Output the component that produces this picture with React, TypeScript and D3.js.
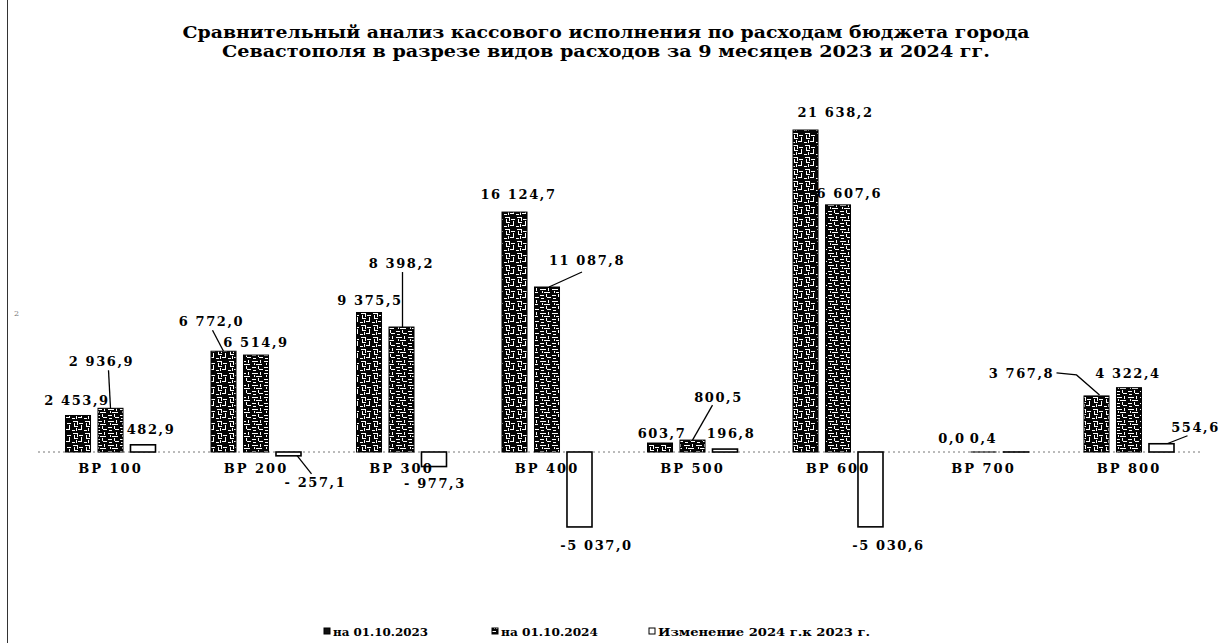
import React, { useRef, useEffect } from "react";
import * as d3 from "d3";

// chart data
const categories = ["ВР 100", "ВР 200", "ВР 300", "ВР 400", "ВР 500", "ВР 600", "ВР 700", "ВР 800"];
const values2023 = [2453.9, 6772.0, 9375.5, 16124.7, 603.7, 21638.2, 0.0, 3767.8];
const values2024 = [2936.9, 6514.9, 8398.2, 11087.8, 800.5, 16607.6, 0.4, 4322.4];
const changes = [482.9, -257.1, -977.3, -5037.0, 196.8, -5030.6, 0.4, 554.6];
const seriesNames = ["на 01.10.2023", "на 01.10.2024", "Изменение 2024 г.к 2023 г."];
const titleLines = [
    "Сравнительный анализ кассового исполнения по расходам бюджета города",
    "Севастополя в разрезе видов расходов за 9 месяцев 2023 и 2024 гг.",
];

// label placement: [dx, dy] from the bar end, null = no label
const labelShift = [
    [[-1, -10], [-12, -25], [1, -7], [4, -13], [2, -5], [30, -13], [1, -9], [-75, -18]],
    [[-9, -42], [0, -8], [0, -59], [40, -22], [26, -38], [6, -7], [0, -9], [-1, -10]],
    [[8, -11], [27, 31], [1, 21], [17, 23], [6, -11], [18, 23], null, [34, -12]],
];
// leader lines as point lists relative to the bar end
const leaders = [
    [null, [[-11, -21], [0, 0]], null, null, null, null, null, [[-40, -23], [-20, -21], [3, -1]]],
    [[[-2, -38], [0, 0]], null, [[1, -55], [1, 0]], [[2, 0], [35, -15]], [[20, -35], [0, 0]], null, null, null],
    [null, [[8, -1], [23, 18]], null, null, null, null, null, [[3, 1], [26, -8]]],
];

const fontFamily = "'DejaVu Serif', 'Liberation Serif', serif";

// white strokes of the hatch patterns: [x, y, w, h]
const hatch1 = [[1, 1, 5, 1], [5, 1, 1, 4], [7, 3, 4, 1], [2, 3, 1, 4], [2, 6, 4, 1], [9, 5, 1, 4], [6, 9, 4, 1], [0, 10, 3, 1], [4, 8, 1, 3]];
const hatch2 = [[0, 1, 6, 1], [8, 0, 1, 3], [2, 3, 1, 2], [4, 4, 6, 1], [0, 7, 4, 1], [6, 6, 1, 3], [7, 9, 4, 1], [1, 10, 3, 1]];

function App() {
    const ref = useRef<SVGSVGElement>(null);

    useEffect(() => {
        draw();
    }, []);

    const draw = () => {
        const svg = d3.select(ref.current);
        svg.selectAll("*").remove();

        const groupWidth = 90;
        const x = d3.scaleBand().domain(categories).range([37.75, 1201.75]);
        const inner = d3.scaleBand().domain(["0", "1", "2"]).range([0, groupWidth]).paddingInner(0.23);
        const y = d3.scaleLinear().domain([-10000, 25000]).range([600.8, 80]);

        const loc = d3.formatLocale({ decimal: ",", thousands: "\u00a0", grouping: [3], currency: ["", ""], minus: "-" });
        const f = loc.format(",.1f");
        const fmt = (v: number) => (v < 0 && v > -1000 ? "- " + f(-v) : f(v));

        // patterns
        const defs = svg.append("defs");
        [hatch1, hatch2].forEach((h, k) => {
            const p = defs.append("pattern").attr("id", "pat" + (k + 1)).attr("patternUnits", "userSpaceOnUse")
                .attr("width", 12).attr("height", 12);
            p.append("rect").attr("width", 12).attr("height", 12).attr("fill", "#050505");
            h.forEach((r) => p.append("rect").attr("x", r[0]).attr("y", r[1]).attr("width", r[2]).attr("height", r[3]).attr("fill", "#fff"));
        });

        // left page edge
        svg.append("line").attr("x1", 7.5).attr("x2", 7.5).attr("y1", 0).attr("y2", 643)
            .attr("stroke", "#333").attr("stroke-width", 1);
        svg.append("text").attr("x", 14).attr("y", 316).text("2")
            .attr("font-family", fontFamily).attr("font-size", 8).attr("fill", "#777");

        // title
        titleLines.forEach((t, i) => {
            svg.append("text").text(t)
                .attr("x", 606).attr("y", 38 + i * 19)
                .attr("text-anchor", "middle")
                .attr("textLength", i === 0 ? 847 : 768)
                .attr("lengthAdjust", "spacingAndGlyphs")
                .attr("font-family", fontFamily).attr("font-weight", "bold").attr("font-size", 16).attr("fill", "#000");
        });

        // zero line
        svg.append("line").attr("x1", 38).attr("x2", 1200).attr("y1", y(0)).attr("y2", y(0))
            .attr("stroke", "#777").attr("stroke-width", 1).attr("stroke-dasharray", "2,3");

        const series = [values2023, values2024, changes];
        const barX = (cat: string, s: number) => (x(cat) as number) + (x.bandwidth() - groupWidth) / 2 + (inner(String(s)) as number);
        const bw = inner.bandwidth();

        // labels and leaders (under the bars)
        series.forEach((vals, s) => {
            vals.forEach((v, i) => {
                const cx = barX(categories[i], s) + bw / 2;
                const cy = y(v);
                const ld = leaders[s][i];
                if (ld) {
                    svg.append("path")
                        .attr("d", d3.line()(ld.map((p) => [cx + p[0], cy + p[1]] as [number, number])))
                        .attr("fill", "none").attr("stroke", "#000").attr("stroke-width", 1.3);
                }
                const sh = labelShift[s][i];
                if (!sh) return;
                svg.append("text").text(fmt(v))
                    .attr("x", cx + sh[0]).attr("y", cy + sh[1])
                    .attr("text-anchor", "middle")
                    .attr("font-family", fontFamily).attr("font-weight", "bold")
                    .attr("font-size", 13).attr("letter-spacing", 1.6).attr("fill", "#000");
            });
        });

        // bars
        series.forEach((vals, s) => {
            svg.append("g").selectAll("rect").data(vals).enter().append("rect")
                .attr("x", (d, i) => barX(categories[i], s))
                .attr("y", (d) => Math.min(y(d), y(0)))
                .attr("width", bw)
                .attr("height", (d) => Math.abs(y(d) - y(0)))
                .attr("fill", s === 2 ? "#fff" : s === 0 ? "url(#pat1)" : "url(#pat2)")
                .attr("stroke", "#000")
                .attr("stroke-width", s === 2 ? 1.6 : 1);
        });

        // category labels
        categories.forEach((c) => {
            svg.append("text").text(c)
                .attr("x", (x(c) as number) + x.bandwidth() / 2).attr("y", 473)
                .attr("text-anchor", "middle")
                .attr("font-family", fontFamily).attr("font-weight", "bold")
                .attr("font-size", 13).attr("letter-spacing", 2).attr("fill", "#000");
        });

        // legend
        const legendX = [324, 492, 649];
        const legendW = [95, 97, 212];
        seriesNames.forEach((n, s) => {
            svg.append("rect").attr("x", legendX[s]).attr("y", 628).attr("width", 6).attr("height", 6)
                .attr("fill", s === 2 ? "#fff" : s === 0 ? "#111" : "url(#pat2)")
                .attr("stroke", "#000").attr("stroke-width", 1);
            svg.append("text").text(n)
                .attr("x", legendX[s] + 9).attr("y", 636)
                .attr("textLength", legendW[s]).attr("lengthAdjust", "spacingAndGlyphs")
                .attr("font-family", fontFamily).attr("font-weight", "bold")
                .attr("font-size", 11).attr("fill", "#000");
        });
    };

    return (
        <div style={{ position: "absolute", left: 0, top: 0, width: 1222, height: 643, background: "#fff" }}>
            <svg ref={ref} width={1222} height={643} style={{ display: "block" }}></svg>
        </div>
    );
}

export default App;
